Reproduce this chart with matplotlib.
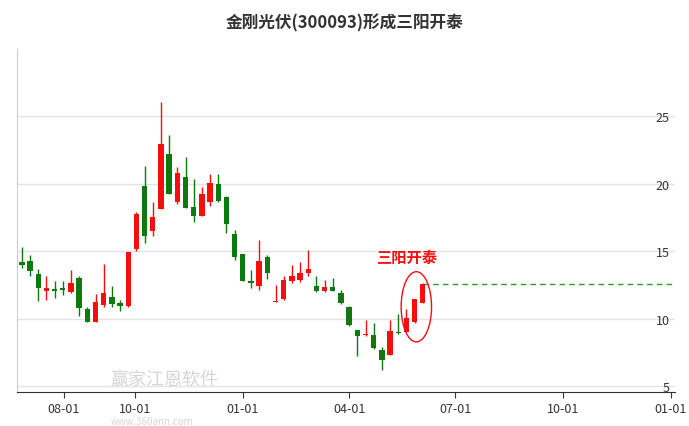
import matplotlib
matplotlib.use("Agg")
import matplotlib.pyplot as plt
import matplotlib.dates as mdates
from matplotlib.patches import Ellipse
import pandas as pd
import numpy as np

plt.rcParams['font.family'] = ['Noto Sans CJK SC', 'DejaVu Sans']

dates = pd.date_range("2023-06-26", periods=50, freq="7D")
opens = [14.2,14.26,13.32,12.04,12.23,12.26,11.99,13.0,10.73,9.79,11.02,11.64,11.17,10.98,15.16,19.86,16.53,18.14,22.21,18.68,
         20.53,18.26,17.59,18.63,19.99,19.07,16.28,14.79,12.8,12.46,14.6,11.23,11.47,12.8,12.87,13.37,12.46,12.06,12.38,11.94,
         10.91,9.19,8.82,8.82,7.71,7.35,9.02,9.02,9.8,11.2]
closes = [14.0,13.52,12.28,12.28,12.09,12.14,12.63,10.8,9.79,11.27,11.91,11.1,10.98,14.93,17.8,16.11,17.57,22.95,19.25,20.78,
          18.21,17.64,19.25,20.06,18.75,17.02,14.6,12.8,12.63,14.28,13.44,11.3,12.87,13.17,13.42,13.73,12.09,12.33,12.09,11.15,
          9.56,8.75,8.89,7.84,6.93,9.14,8.94,10.05,11.45,12.56]
highs = [15.3,14.73,13.7,13.2,12.83,12.83,13.64,13.2,10.85,11.84,14.06,12.41,11.42,14.98,17.9,21.3,18.63,26.09,23.62,21.22,
         21.96,20.36,19.81,20.73,20.73,19.12,16.58,14.8,13.66,15.82,14.72,12.5,13.19,14.03,14.23,15.09,13.19,12.87,13.07,12.14,
         10.96,9.19,9.93,9.68,7.89,9.93,10.37,10.74,11.45,12.63]
lows = [13.8,13.15,11.35,11.42,11.54,11.8,11.9,10.24,9.75,9.75,10.92,10.85,10.56,10.92,15.05,15.6,16.16,18.14,19.25,18.5,
        18.21,17.2,17.59,18.38,18.68,16.35,14.35,12.8,12.26,12.14,12.95,11.23,11.4,12.63,12.7,13.19,12.01,11.97,12.06,11.11,
        9.51,7.22,8.77,7.79,6.19,7.3,8.87,9.02,9.68,11.15]
yticks = [5, 10, 15, 20, 25]
xtick_dates = ["2023-08-01","2023-10-01","2024-01-01","2024-04-01","2024-07-01","2024-10-01","2025-01-01"]
xtick_labels = ["08-01","10-01","01-01","04-01","07-01","10-01","01-01"]

fig = plt.figure(figsize=(6.89, 4.27), dpi=100)
ax = fig.add_axes([0.025, 0.08, 0.955, 0.803])
x = mdates.date2num(dates)
red, green = "#f40f0f", "#0e7a0e"
for xi, o, c, h, l in zip(x, opens, closes, highs, lows):
    col = red if c >= o else green
    ax.vlines(xi, l, h, color=col, lw=1, zorder=3)
    ax.bar(xi, max(abs(c - o), 0.08), bottom=min(o, c), width=4.6, color=col, zorder=4)

xend = mdates.date2num(pd.Timestamp("2025-01-05"))
ax.hlines(closes[-1], x[-1], xend, colors="#2a9a2a", linestyles=(0, (4, 3)), lw=1, zorder=2)
ax.add_patch(Ellipse((x[-2] + 1.5, 10.9), 26, 5.2, fill=False, ec=red, lw=1, zorder=5))
ax.text(x[-3], 14.0, "三阳开泰", color=red, fontsize=11, fontweight="bold", ha="center", va="bottom")

ax.set_xlim(mdates.date2num(pd.Timestamp("2023-06-22")), xend)
ax.set_ylim(4.6, 30.0)
ax.set_yticks(yticks)
ax.yaxis.tick_right()
ax.tick_params(axis="y", length=0, pad=-4, labelsize=9, colors="#333333")
for t in ax.get_yticklabels():
    t.set_horizontalalignment("right")
ax.grid(axis="y", color="#e3e3e3", lw=1)
ax.set_axisbelow(True)
ax.set_xticks(mdates.date2num(pd.to_datetime(xtick_dates)))
ax.set_xticklabels(xtick_labels)
ax.tick_params(axis="x", labelsize=9, colors="#333333", length=4)
for s in ["top", "right"]:
    ax.spines[s].set_visible(False)
ax.spines["left"].set_color("#cccccc")
ax.spines["bottom"].set_color("#333333")

fig.text(0.5, 0.945, "金刚光伏(300093)形成三阳开泰", ha="center", va="center", fontsize=12, fontweight="bold", color="#333333")
fig.text(0.16, 0.1, "赢家江恩软件", fontsize=13, color="#bbbbbb", alpha=0.6, ha="left")
fig.text(0.16, 0.005, "www.360ann.com", fontsize=7, color="#bbbbbb", alpha=0.6, ha="left")
fig.savefig("out.png", dpi=100)
